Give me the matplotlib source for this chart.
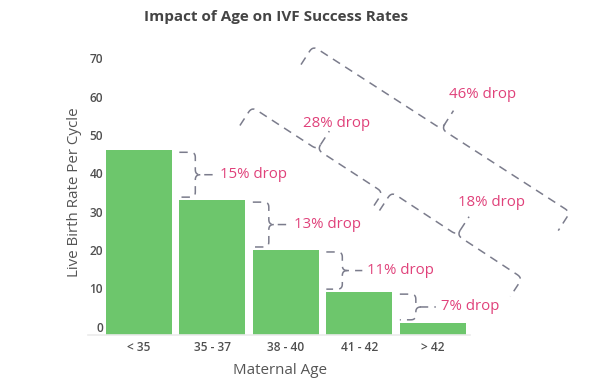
import numpy as np
import matplotlib
matplotlib.use("Agg")
import matplotlib.pyplot as plt

# ---------------- data ----------------
categories = ["< 35", "35 - 37", "38 - 40", "41 - 42", "> 42"]
live_birth_rate = [46, 33, 20, 9, 1]
step_drops = ["15% drop", "13% drop", "11% drop", "7% drop"]
y_ticks = [0, 10, 20, 30, 40, 50, 60, 70]

# large (rotated) brace annotations: label, brace start/end (data coords), label position (data coords)
big_labels = ["28% drop", "18% drop", "46% drop"]
big_starts = [(1.54, 57.3), (3.44, 35.1), (2.37, 73.2)]
big_ends = [(3.32, 35.1), (5.22, 12.7), (5.87, 29.9)]
big_text_pos = [(2.69, 53.1), (4.80, 32.3), (4.68, 60.7)]

# ---------------- style ----------------
W, H, DPI = 600, 386, 100
BAR_COLOR = "#6dc66c"
TEXT_PINK = "#e0417a"
DASH_COLOR = "#7b7c8c"
AXIS_TEXT = "#555555"
FONT = ["Open Sans", "DejaVu Sans"]
plt.rcParams["font.family"] = FONT

fig = plt.figure(figsize=(W / DPI, H / DPI), dpi=DPI)
ax_left, ax_right, ax_bottom, ax_top = 88, 470, 335, 39.2
ax = fig.add_axes([ax_left / W, 1 - ax_bottom / H, (ax_right - ax_left) / W, (ax_bottom - ax_top) / H])

floor = -2.16
ax.set_xlim(-0.69, 4.507)
ax.set_ylim(floor, 75)

x = np.arange(len(categories))
ax.bar(x, np.array(live_birth_rate) - floor, bottom=floor, width=0.898, color=BAR_COLOR, zorder=2)

for s in ["top", "right", "left"]:
    ax.spines[s].set_visible(False)
ax.spines["bottom"].set_color("#ebebeb")
ax.spines["bottom"].set_linewidth(1.2)

ax.set_xticks(x)
ax.set_xticklabels(categories)
ax.set_yticks(y_ticks)
ax.tick_params(axis="both", length=0, labelsize=8.6, labelcolor="#4f4f4f")
ax.tick_params(axis="y", pad=-15 * 0.72)
ax.tick_params(axis="x", pad=4.5)
for lab in ax.get_xticklabels() + ax.get_yticklabels():
    lab.set_fontweight("semibold")

fig.text(276.5 / W, 1 - 17 / H, "Impact of Age on IVF Success Rates", ha="center", va="center",
         fontsize=11, fontweight="bold", color="#444444")
fig.text(75 / W, 1 - 192 / H, "Live Birth Rate Per Cycle", rotation=90, ha="center", va="center",
         fontsize=10.9, color=AXIS_TEXT)
fig.text(280 / W, 1 - 371 / H, "Maternal Age", ha="center", va="center", fontsize=10.9, color=AXIS_TEXT)


def brace(p0, p1, tail=16, nub=20, r=5):
    """Curly brace from p0 to p1 (data coords); tails/nub in pixels. Returns nub tip (display)."""
    T = ax.transData
    a = T.transform(p0)
    b = T.transform(p1)
    d = b - a
    L = np.hypot(*d)
    u = d / L
    n = np.array([u[1], -u[0]])
    m = (a + b) / 2

    def quad(p_start, ctrl, p_end, k=8):
        t = np.linspace(0, 1, k)[:, None]
        return (1 - t) ** 2 * p_start + 2 * (1 - t) * t * ctrl + t ** 2 * p_end

    seg1 = np.vstack([
        [a + n * tail],
        quad(a + n * r, a, a + u * r),
        quad(m - u * r, m, m - n * r),
        [m - n * nub],
    ])
    seg2 = np.vstack([
        [m - n * r],
        quad(m - n * r, m, m + u * r)[1:],
        quad(b - u * r, b, b + n * r),
        [b + n * tail],
    ])
    inv = T.inverted()
    for seg in (seg1, seg2):
        pts = inv.transform(seg)
        ax.plot(pts[:, 0], pts[:, 1], color=DASH_COLOR, lw=1.1, ls=(0, (5.5, 4)),
                clip_on=False, zorder=3, solid_capstyle="butt", dash_capstyle="butt")
    return m - n * nub


# small braces between neighbouring bars
for i, lab in enumerate(step_drops):
    top = live_birth_rate[i] - 0.5
    bot = live_birth_rate[i + 1] + 0.8
    tip = brace((i + 0.77, top), (i + 0.77, bot), tail=16, nub=20, r=5)
    tx, ty = ax.transData.inverted().transform(tip + np.array([5, 0]))
    ax.text(tx, ty, lab, ha="left", va="center", fontsize=10.8, color=TEXT_PINK, clip_on=False)

# large rotated braces
for lab, p0, p1, tp in zip(big_labels, big_starts, big_ends, big_text_pos):
    brace(p0, p1, tail=22, nub=22, r=6)
    ax.text(tp[0], tp[1], lab, ha="center", va="center", fontsize=10.8, color=TEXT_PINK, clip_on=False)

fig.savefig("out.png", dpi=DPI)
